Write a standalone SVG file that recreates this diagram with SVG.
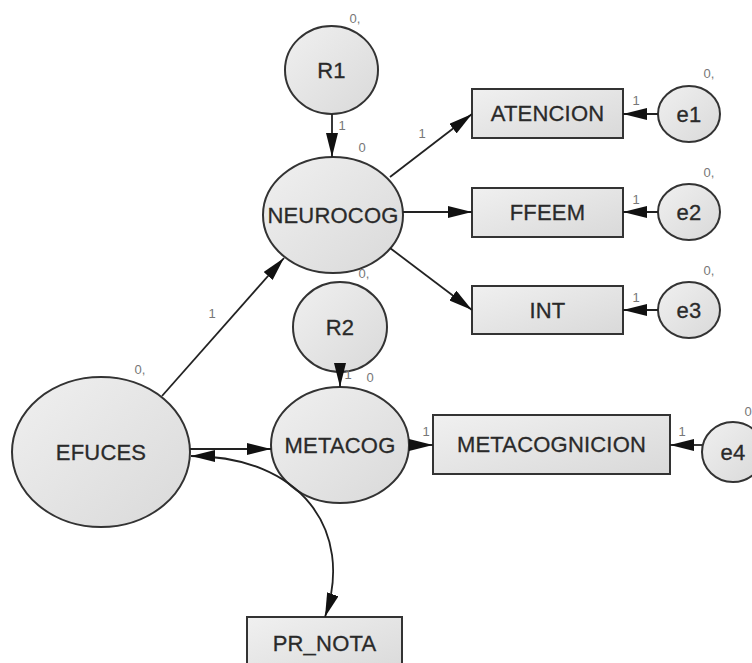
<svg xmlns="http://www.w3.org/2000/svg" width="752" height="663" viewBox="0 0 752 663">
<defs>
<linearGradient id="g" x1="0" y1="0" x2="1" y2="1">
<stop offset="0" stop-color="#f0f0f0"/>
<stop offset="1" stop-color="#d9d9d9"/>
</linearGradient>
<marker id="arr" viewBox="0 0 24 12" markerWidth="24" markerHeight="12" refX="24" refY="6" orient="auto-start-reverse" markerUnits="userSpaceOnUse">
<path d="M0,0 L24,6 L0,12 z" fill="#111"/>
</marker>
<style>
.n{fill:url(#g);stroke:#333;stroke-width:2}
.t{font-family:"Liberation Sans",Arial,sans-serif;font-size:22px;letter-spacing:0.2px;fill:#2a2a2a;stroke:#2a2a2a;stroke-width:0.3;text-anchor:middle;dominant-baseline:central}
.s{font-family:"Liberation Sans",Arial,sans-serif;font-size:13px;fill:#777;text-anchor:middle;dominant-baseline:central}
.c{fill:none;stroke:#222;stroke-width:1.8;marker-end:url(#arr)}
.cv{fill:none;stroke:#222;stroke-width:1.8;marker-start:url(#arr);marker-end:url(#arr)}
</style>
</defs>
<rect width="752" height="663" fill="#fff"/>
<g id="R1"><ellipse class="n" cx="331.5" cy="70" rx="46.5" ry="44"/><text class="t" x="331.5" y="70">R1</text></g>
<g id="NEUROCOG"><ellipse class="n" cx="333" cy="215" rx="70" ry="58"/><text class="t" x="333" y="215">NEUROCOG</text></g>
<g id="ATENCION"><rect class="n" x="472" y="89" width="151" height="49"/><text class="t" x="547.5" y="113.5">ATENCION</text></g>
<g id="FFEEM"><rect class="n" x="472" y="188" width="151" height="49"/><text class="t" x="547.5" y="212.5">FFEEM</text></g>
<g id="INT"><rect class="n" x="472" y="286" width="151" height="48"/><text class="t" x="547.5" y="310">INT</text></g>
<g id="e1"><ellipse class="n" cx="689" cy="114" rx="31" ry="28"/><text class="t" x="689" y="114">e1</text></g>
<g id="e2"><ellipse class="n" cx="689" cy="212" rx="31" ry="28"/><text class="t" x="689" y="212">e2</text></g>
<g id="e3"><ellipse class="n" cx="689" cy="310" rx="31" ry="28"/><text class="t" x="689" y="310">e3</text></g>
<g id="R2"><ellipse class="n" cx="340" cy="327" rx="47" ry="45"/><text class="t" x="340" y="327">R2</text></g>
<g id="METACOG"><ellipse class="n" cx="340" cy="445" rx="69" ry="58"/><text class="t" x="340" y="445">METACOG</text></g>
<g id="EFUCES"><ellipse class="n" cx="101" cy="452" rx="89" ry="75"/><text class="t" x="101" y="452">EFUCES</text></g>
<g id="METACOGNICION"><rect class="n" x="433" y="415" width="237" height="59"/><text class="t" x="551.5" y="444.5">METACOGNICION</text></g>
<g id="e4"><ellipse class="n" cx="733" cy="452" rx="31" ry="30"/><text class="t" x="733" y="452">e4</text></g>
<g id="PR_NOTA"><rect class="n" x="247" y="617" width="155" height="60"/><text class="t" x="324.5" y="643">PR_NOTA</text></g>
<g id="connectors">
<path class="c" d="M332,114 L332,157"/>
<path class="c" d="M390,177 L472,114"/>
<path class="c" d="M403,212 L472,212"/>
<path class="c" d="M390,248 L472,310"/>
<path class="c" d="M658,114 L623,114"/>
<path class="c" d="M658,212 L623,212"/>
<path class="c" d="M658,310 L623,310"/>
<path class="c" d="M162,396 L284,258"/>
<path class="c" d="M340,364 L340,387"/>
<path class="c" d="M190,449 L271,449"/>
<path class="c" d="M409,445 L433,445"/>
<path class="c" d="M702,445 L670,445"/>
<path class="cv" d="M191,456 C300,456 355,530 325,617"/>
</g>
<g id="labels">
<text class="s" x="355" y="18">0,</text>
<text class="s" x="362" y="147">0</text>
<text class="s" x="342" y="125">1</text>
<text class="s" x="422" y="133">1</text>
<text class="s" x="709" y="73">0,</text>
<text class="s" x="709" y="172">0,</text>
<text class="s" x="709" y="270">0,</text>
<text class="s" x="636" y="100">1</text>
<text class="s" x="636" y="199">1</text>
<text class="s" x="636" y="297">1</text>
<text class="s" x="364" y="273">0,</text>
<text class="s" x="370" y="377">0</text>
<text class="s" x="348" y="374">1</text>
<text class="s" x="140" y="369">0,</text>
<text class="s" x="212" y="313">1</text>
<text class="s" x="426" y="431">1</text>
<text class="s" x="682" y="431">1</text>
<text class="s" x="748" y="411">0</text>
</g>
</svg>
